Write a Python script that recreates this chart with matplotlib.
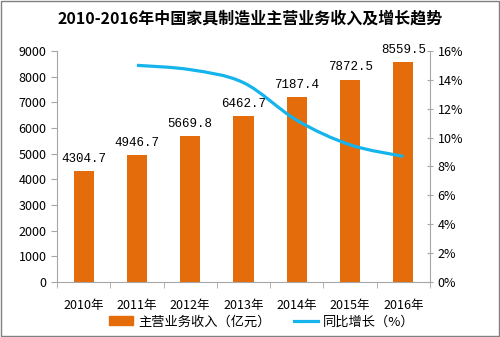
import matplotlib.pyplot as plt
from matplotlib.path import Path
from matplotlib.patches import PathPatch, Rectangle
from matplotlib.lines import Line2D
import numpy as np

plt.rcParams['font.family'] = ['Noto Sans CJK SC', 'DejaVu Sans']

years = ['2010年', '2011年', '2012年', '2013年', '2014年', '2015年', '2016年']
revenue = [4304.7, 4946.7, 5669.8, 6462.7, 7187.4, 7872.5, 8559.5]
growth = [None, 15.0, 14.7, 13.8, 11.2, 9.5, 8.7]

bar_color = '#E46C0A'
line_color = '#16B4EC'
axis_gray = '#A6A6A6'

fig = plt.figure(figsize=(5, 3.37), dpi=100)
ax = fig.add_axes([0.114, 0.163, 0.746, 0.686])
x = np.arange(len(years))

ax.bar(x, revenue, width=0.38, color=bar_color, zorder=2)
for xi, v in zip(x, revenue):
    ax.text(xi, v + 250, f'{v:.1f}', ha='center', va='bottom', fontsize=9,
            family=['Liberation Mono', 'DejaVu Sans Mono'])

ax.set_xlim(-0.5, len(years) - 0.5)
ax.set_ylim(0, 9000)
ax.set_yticks(range(0, 9001, 1000))
ax.set_xticks(x)
ax.set_xticklabels(years, fontsize=9)
ax.set_xticks(np.arange(-0.5, len(years), 1), minor=True)
ax.tick_params(axis='x', which='major', length=0, pad=12)
ax.tick_params(axis='x', which='minor', length=4, color=axis_gray)
ax.tick_params(axis='y', length=4, color=axis_gray, labelsize=9)
for s in ['top', 'right']:
    ax.spines[s].set_visible(False)
for s in ['left', 'bottom']:
    ax.spines[s].set_color(axis_gray)

ax2 = ax.twinx()
ax2.set_ylim(0, 16)
ax2.set_yticks(range(0, 17, 2))
ax2.set_yticklabels([f'{t}%' for t in range(0, 17, 2)], fontsize=9)
ax2.tick_params(axis='y', length=4, color=axis_gray, direction='inout')
for s in ['top', 'left', 'bottom']:
    ax2.spines[s].set_visible(False)
ax2.spines['right'].set_color(axis_gray)

# smooth line (Excel-style bezier through the points)
px = [xi for xi, g in zip(x, growth) if g is not None]
py = [g for g in growth if g is not None]
pts = np.array(list(zip(px, py)), dtype=float)
verts = [tuple(pts[0])]
codes = [Path.MOVETO]
n = len(pts)
for i in range(n - 1):
    p0 = pts[i - 1] if i > 0 else pts[i]
    p1 = pts[i]
    p2 = pts[i + 1]
    p3 = pts[i + 2] if i + 2 < n else pts[i + 1]
    c1 = p1 + (p2 - p0) / 6.0
    c2 = p2 - (p3 - p1) / 6.0
    verts += [tuple(c1), tuple(c2), tuple(p2)]
    codes += [Path.CURVE4] * 3
ax2.add_patch(PathPatch(Path(verts, codes), facecolor='none',
                        edgecolor=line_color, lw=2.3, zorder=3))

fig.text(0.5, 0.945, '2010-2016年中国家具制造业主营业务收入及增长趋势',
         ha='center', va='center', fontsize=11.5, fontweight='bold')

handles = [Rectangle((0, 0), 1, 1, color=bar_color),
           Line2D([0], [0], color=line_color, lw=2.3)]
fig.legend(handles, ['主营业务收入（亿元）', '同比增长（%）'], loc='center',
           bbox_to_anchor=(0.524, 0.045), ncol=2, frameon=False, fontsize=9.5,
           handlelength=1.8, handleheight=0.6, handletextpad=0.4,
           columnspacing=1.8)

fig.add_artist(Rectangle((0.002, 0.003), 0.996, 0.994, transform=fig.transFigure,
                         fill=False, edgecolor='#808080', lw=1))

fig.savefig('out.png', dpi=100)
